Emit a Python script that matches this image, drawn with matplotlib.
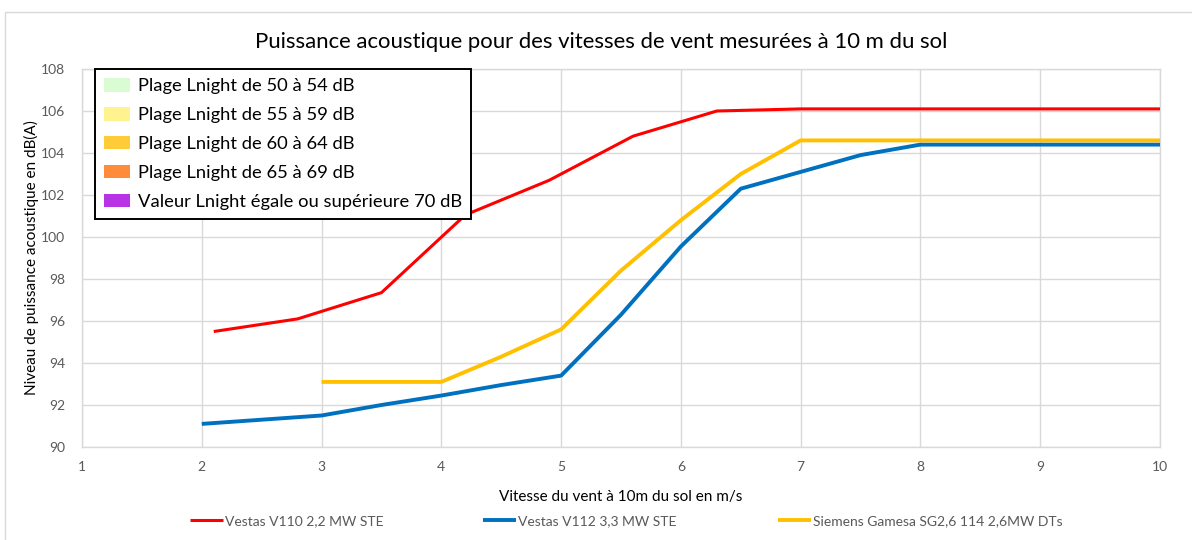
import matplotlib
matplotlib.use("Agg")
import matplotlib.pyplot as plt
from matplotlib.patches import Patch, Rectangle
import numpy as np

plt.rcParams['font.family'] = ['Lato', 'DejaVu Sans']

# ---- data ----
title = "Puissance acoustique pour des vitesses de vent mesurées à 10 m du sol"
xlabel = "Vitesse du vent à 10m du sol en m/s"
ylabel = "Niveau de puissance acoustique en dB(A)"

red_name = "Vestas V110 2,2 MW STE"
red_x = [2.1, 2.8, 3.5, 4.2, 4.9, 5.6, 6.3, 7.0, 7.7, 8.4, 9.1, 10.0]
red_y = [95.5, 96.1, 97.35, 101.05, 102.7, 104.8, 106.0, 106.1, 106.1, 106.1, 106.1, 106.1]

blue_name = "Vestas V112 3,3 MW STE"
blue_x = [2.0, 2.5, 3.0, 3.5, 4.0, 4.5, 5.0, 5.5, 6.0, 6.5, 7.0, 7.5, 8.0, 8.5, 9.0, 9.5, 10.0]
blue_y = [91.1, 91.3, 91.5, 92.0, 92.45, 92.95, 93.4, 96.3, 99.55, 102.3, 103.1, 103.9, 104.4,
          104.4, 104.4, 104.4, 104.4]

yellow_name = "Siemens Gamesa SG2,6 114 2,6MW DTs"
yellow_x = [3.0, 3.5, 4.0, 4.5, 5.0, 5.5, 6.0, 6.5, 7.0, 7.5, 8.0, 8.5, 9.0, 9.5, 10.0]
yellow_y = [93.1, 93.1, 93.1, 94.3, 95.6, 98.4, 100.8, 103.0, 104.6, 104.6, 104.6, 104.6,
            104.6, 104.6, 104.6]

lnight_labels = ["Plage Lnight de 50 à 54 dB", "Plage Lnight de 55 à 59 dB",
                 "Plage Lnight de 60 à 64 dB", "Plage Lnight de 65 à 69 dB",
                 "Valeur Lnight égale ou supérieure 70 dB"]
lnight_colors = ["#d9fcd3", "#fff38f", "#ffcb37", "#ff8c3a", "#b832e6"]

x_ticks = [1, 2, 3, 4, 5, 6, 7, 8, 9, 10]
y_ticks = [90, 92, 94, 96, 98, 100, 102, 104, 106, 108]

# ---- figure ----
W, H = 1192, 540
fig = plt.figure(figsize=(W / 100, H / 100), dpi=100)
ax = fig.add_axes([82 / W, 1 - 447 / H, (1160 - 82) / W, (447 - 69) / H])

# outer chart frame (left/top visible)
fig.add_artist(Rectangle((5 / W, -0.1), 1.5, 1 - 12 / H + 0.1, transform=fig.transFigure,
                         fill=False, edgecolor="#d9d9d9", linewidth=1))

l_red, = ax.plot(red_x, red_y, color="#ff0000", lw=2.2, solid_joinstyle="round",
                 solid_capstyle="butt", zorder=5)
l_blue, = ax.plot(blue_x, blue_y, color="#0070c0", lw=2.8, solid_joinstyle="round",
                  solid_capstyle="butt", zorder=3)
l_yel, = ax.plot(yellow_x, yellow_y, color="#ffc000", lw=2.8, solid_joinstyle="round",
                 solid_capstyle="butt", zorder=4)

ax.set_xlim(1, 10)
ax.set_ylim(90, 108)
ax.set_xticks(x_ticks)
ax.set_yticks(y_ticks)
ax.grid(True, color="#d9d9d9", linewidth=1.0)
ax.set_axisbelow(True)
for s in ax.spines.values():
    s.set_color("#d9d9d9")
    s.set_linewidth(1.0)
ax.tick_params(length=0, labelsize=10, colors="#595959", pad=10)
ax.tick_params(axis="y", pad=12)

ax.set_xlabel(xlabel, fontsize=11, color="black", labelpad=12)
ax.set_ylabel(ylabel, fontsize=11, color="black", labelpad=1.5)
fig.text(0.5 * (258 + 945) / W, 1 - 42 / H, title, ha="center", va="center", fontsize=15.9,
         color="black")

# Lnight legend (upper-left box)
handles = [Patch(facecolor=c, edgecolor="none") for c in lnight_colors]
leg = ax.legend(handles, lnight_labels, loc="upper left",
                bbox_to_anchor=((95 - 82) / (1160 - 82), 1.0), fontsize=13.2,
                frameon=True, fancybox=False, edgecolor="black", framealpha=1,
                handlelength=1.4, handleheight=0.75, handletextpad=0.45,
                labelspacing=0.7, borderpad=0.5, borderaxespad=0)
leg.get_frame().set_linewidth(1.4)

# bottom series legends, three evenly spaced entries
for line, name, xpx in [(l_red, red_name, 190), (l_blue, blue_name, 483),
                        (l_yel, yellow_name, 778)]:
    lg = fig.legend([line], [name], loc="center left",
                    bbox_to_anchor=(xpx / W, 1 - 521 / H), frameon=False, fontsize=10,
                    handlelength=2.4, handletextpad=0.15, borderpad=0, borderaxespad=0)
    for t in lg.get_texts():
        t.set_color("#595959")

fig.savefig("out.png", dpi=100)
